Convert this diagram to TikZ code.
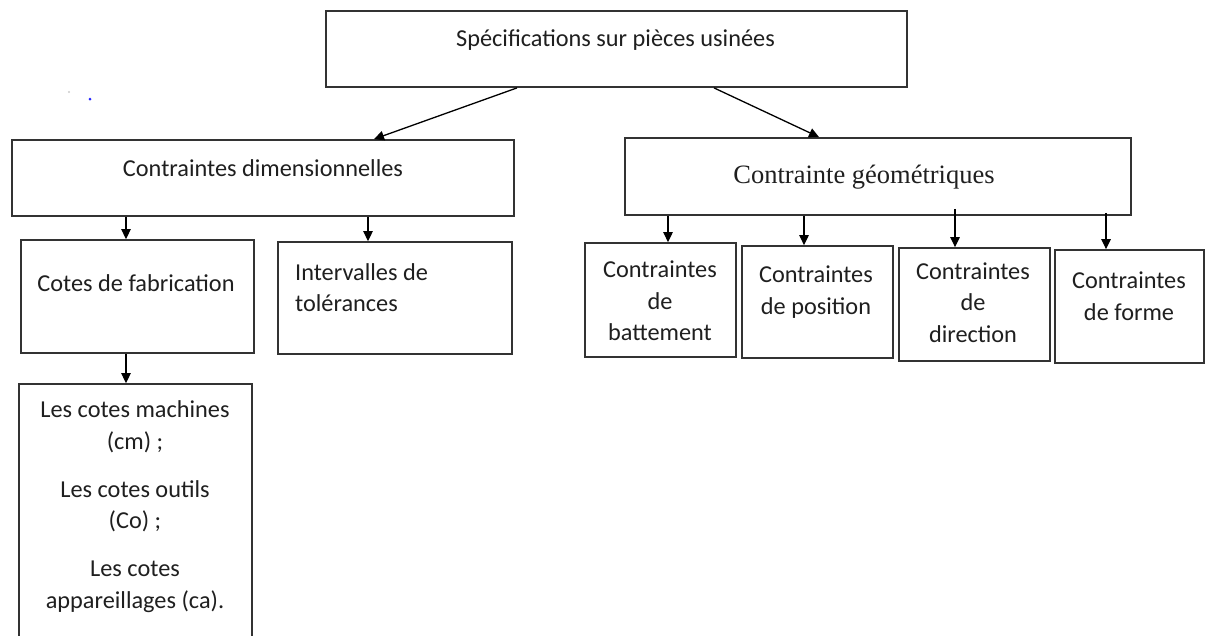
\documentclass[tikz,border=0pt]{standalone}
\usepackage{fontspec}
\setmainfont{Carlito}
\newfontfamily\timesf{Liberation Serif}
\usetikzlibrary{arrows.meta}
\begin{document}
\begin{tikzpicture}[x=1pt,y=-1pt,
  box/.style={draw=black!80, line width=1.8pt, inner sep=0pt, fill=none},
  txt/.style={font=\fontsize{24.3}{31.5}\selectfont, text=black!88, align=center, inner sep=0pt},
  arr/.style={draw=black, line width=1.3pt, -{Triangle[length=10pt,width=9.5pt]}}
]
\useasboundingbox (0,0) rectangle (1206,635);
\fill[white] (0,0) rectangle (1206,635);

% stray marks
\fill[black!20] (69,92) circle (1.2pt);
\fill[blue!85] (90,99) circle (1.5pt);

% boxes
\node[box, minimum width=581pt, minimum height=76pt] (top) at (616.5,49) {};
\node[box, minimum width=502pt, minimum height=76pt] (dim) at (263,178) {};
\node[box, minimum width=506pt, minimum height=77pt] (geo) at (878,176.5) {};
\node[box, minimum width=233pt, minimum height=113pt] (fab) at (137.5,296.5) {};
\node[box, minimum width=234pt, minimum height=112pt] (tol) at (395,298) {};
\node[box, minimum width=233pt, minimum height=266pt] (cm) at (135.5,517) {};
\node[box, minimum width=151pt, minimum height=114pt] (bat) at (660.5,300) {};
\node[box, minimum width=151pt, minimum height=112pt] (pos) at (817.5,302) {};
\node[box, minimum width=151pt, minimum height=113pt] (dir) at (974.5,304.5) {};
\node[box, minimum width=149pt, minimum height=113pt] (for) at (1129.5,306.5) {};

% texts
\node[txt] (ttop) at (615.5,40) {Spécifications sur pièces usinées};
\node[txt] (tdim) at (263,168) {Contraintes dimensionnelles};
\node[txt, font=\timesf\fontsize{26.5}{31.5}\selectfont] (tgeo) at (864,177) {Contrainte géométriques};
\node[txt] (tfab) at (136,283) {Cotes de fabrication};
\node[txt, align=left, anchor=west] (ttol) at (295,287.5) {Intervalles de\\tolérances};
\node[txt] (tcm) at (135,506.5) {Les cotes machines\\(cm) ;\\[16.5pt]Les cotes outils\\(Co) ;\\[16.5pt]Les cotes\\appareillages (ca).};
\node[txt] (tbat) at (660,301) {Contraintes\\de\\battement};
\node[txt] (tpos) at (816,292) {Contraintes\\de position};
\node[txt] (tdir) at (973,302.5) {Contraintes\\de\\direction};
\node[txt] (tfor) at (1129,296) {Contraintes\\de forme};

% connectors
\draw[arr] ([xshift=-99.5pt]top.south) -- ([xshift=111pt]dim.north);
\draw[arr] ([xshift=97.5pt]top.south) -- ([xshift=-59pt]geo.north);

\coordinate (c1) at ([xshift=-11.5pt]fab.north);
\coordinate (c2) at ([xshift=-27pt]tol.north);
\coordinate (c3) at ([xshift=-9.5pt]cm.north);
\coordinate (c4) at ([xshift=7.5pt]bat.north);
\coordinate (c5) at ([xshift=-13.5pt]pos.north);
\coordinate (c6) at ([xshift=-19.5pt]dir.north);
\coordinate (c7) at ([xshift=-23.5pt]for.north);
\coordinate (g6) at ([yshift=7pt]geo.south);
\coordinate (g7) at ([yshift=3pt]geo.south);

\draw[arr] (c1 |- dim.south) -- (c1);
\draw[arr] (c2 |- dim.south) -- (c2);
\draw[arr] (c3 |- fab.south) -- (c3);
\draw[arr] (c4 |- geo.south) -- (c4);
\draw[arr] (c5 |- geo.south) -- (c5);
\draw[arr] (c6 |- g6) -- (c6);
\draw[arr] (c7 |- g7) -- (c7);
\end{tikzpicture}
\end{document}
